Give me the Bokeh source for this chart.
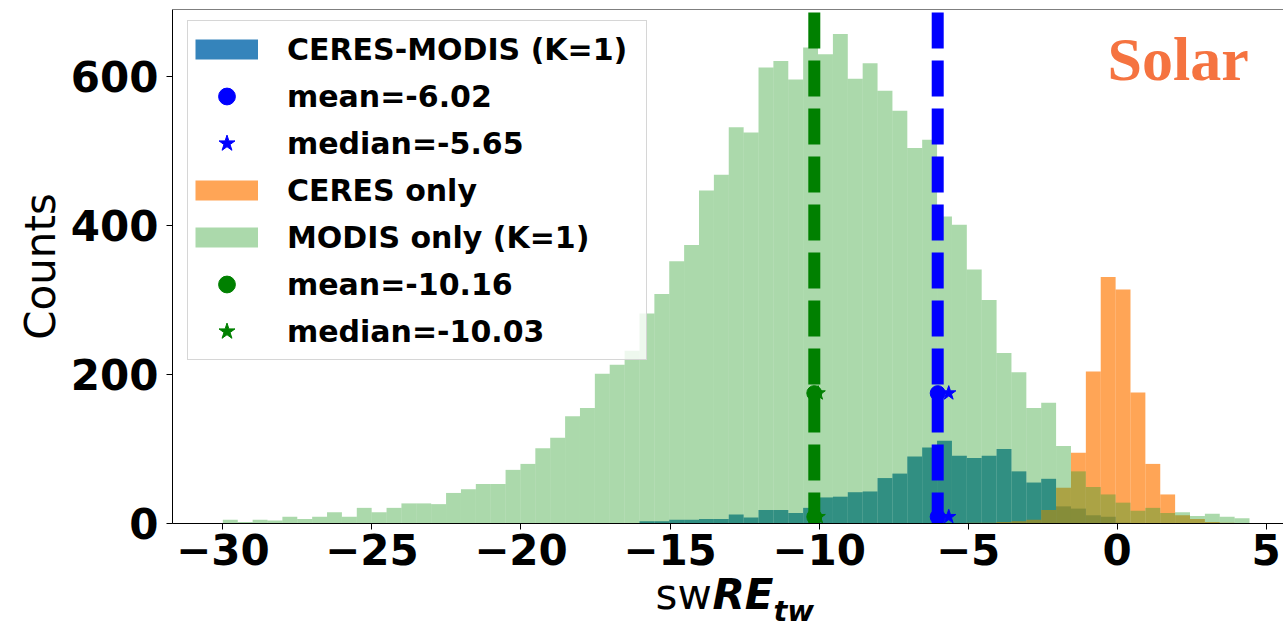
import numpy as np
from bokeh.plotting import figure
from bokeh.layouts import column
from bokeh.models import (Range1d, FixedTicker, Legend, LegendItem, Label, Span,
                          ColumnDataSource)
from bokeh.embed import file_html
from bokeh.resources import INLINE

# ---------------- data ----------------
bin_min = -30.0
bin_max = 4.44
n_bins = 69

modis_only = [5, 2, 5, 4, 9, 6, 9, 15, 9, 21,
              15, 21, 27, 27, 26, 41, 46, 53, 53, 72,
              80, 101, 115, 144, 155, 201, 213, 232, 282, 308,
              352, 374, 447, 468, 532, 525, 612, 621, 596, 639,
              630, 657, 597, 618, 581, 554, 504, 515, 412, 401,
              341, 300, 229, 203, 155, 162, 104, 70, 49, 39,
              28, 17, 21, 14, 15, 10, 13, 9, 7]

ceres_modis = [0, 0, 0, 0, 0, 0, 0, 0, 0, 0,
               0, 0, 0, 0, 0, 0, 0, 0, 0, 0,
               0, 0, 0, 0, 0, 0, 0, 0, 3, 3,
               5, 5, 6, 6, 12, 8, 18, 18, 14, 21,
               35, 36, 42, 43, 61, 67, 90, 102, 111, 91,
               88, 91, 100, 70, 55, 60, 23, 20, 11, 9,
               1, 0, 0, 0, 0, 0, 0, 0, 0]

ceres_only = [0, 0, 0, 0, 0, 0, 0, 0, 0, 0,
              0, 0, 0, 0, 0, 0, 0, 0, 0, 0,
              0, 0, 0, 0, 0, 0, 0, 0, 0, 0,
              0, 0, 0, 0, 0, 0, 0, 0, 0, 0,
              0, 0, 0, 0, 0, 0, 0, 0, 0, 0,
              1, 1, 2, 3, 5, 18, 48, 95, 204, 331,
              314, 176, 80, 39, 11, 6, 2, 1, 0]

ceres_modis_mean = -6.02
ceres_modis_median = -5.65
modis_mean = -10.16
modis_median = -10.03
marker_levels = [175, 9]

x_ticks = [-30, -25, -20, -15, -10, -5, 0, 5]
y_ticks = [0, 200, 400, 600]

legend_labels = ["CERES-MODIS (K=1)", "mean=-6.02", "median=-5.65", "CERES only",
                 "MODIS only (K=1)", "mean=-10.16", "median=-10.03"]

# ---------------- plot ----------------
edges = np.linspace(bin_min, bin_max, n_bins + 1)
left, right = edges[:-1], edges[1:]

X0, X1 = -31.69, 5.58
Y0, Y1 = 0, 690

W = 1283
H_MAIN = 585
OVERLAP = 14
H_XLAB = 631 - H_MAIN + OVERLAP

p = figure(width=W, height=H_MAIN, output_backend="svg", toolbar_location=None,
           x_range=Range1d(X0, X1), y_range=Range1d(Y0, Y1),
           min_border_left=172, min_border_right=0, min_border_top=9, min_border_bottom=62)
p.grid.visible = False
p.outline_line_color = None
p.background_fill_color = "white"
p.border_fill_color = "white"

blue_c, orange_c, green_c = "#1f77b4", "#ff7f0e", "#2ca02c"

src = ColumnDataSource(dict(left=left, right=right, cm=ceres_modis, co=ceres_only, mo=modis_only))
r_cm = p.quad(left="left", right="right", bottom=0, top="cm", source=src,
              fill_color=blue_c, fill_alpha=0.9, line_color=None)
r_co = p.quad(left="left", right="right", bottom=0, top="co", source=src,
              fill_color=orange_c, fill_alpha=0.7, line_color=None)
r_mo = p.quad(left="left", right="right", bottom=0, top="mo", source=src,
              fill_color=green_c, fill_alpha=0.4, line_color=None)

# mean lines
line_top = Y1
p.segment(x0=[modis_mean], x1=[modis_mean], y0=[line_top], y1=[Y0], line_color="#008000",
          line_width=12, line_dash="36 12", line_dash_offset=45)
p.segment(x0=[ceres_modis_mean], x1=[ceres_modis_mean], y0=[line_top], y1=[Y0], line_color="#0000ff",
          line_width=12, line_dash="36 12", line_dash_offset=45)

r_bmean = p.scatter(x=[ceres_modis_mean] * 2, y=marker_levels, marker="circle", size=15,
                    fill_color="#0000ff", line_color="#0000ff")
r_bmed = p.scatter(x=[ceres_modis_median] * 2, y=marker_levels, marker="star", size=15,
                   fill_color="#0000ff", line_color="#0000ff")
r_gmean = p.scatter(x=[modis_mean] * 2, y=marker_levels, marker="circle", size=15,
                    fill_color="#008000", line_color="#008000")
r_gmed = p.scatter(x=[modis_median] * 2, y=marker_levels, marker="star", size=15,
                   fill_color="#008000", line_color="#008000")

# legend swatches (thick lines give a matplotlib-like flat patch)
def swatch(color, alpha):
    return p.line(x="x", y="y", source=ColumnDataSource(dict(x=[np.nan], y=[np.nan])),
                  line_color=color, line_alpha=alpha, line_width=20)

sw_blue = swatch(blue_c, 0.9)
sw_orange = swatch(orange_c, 0.7)
sw_green = swatch(green_c, 0.4)

items = [LegendItem(label=legend_labels[0], renderers=[sw_blue]),
         LegendItem(label=legend_labels[1], renderers=[r_bmean]),
         LegendItem(label=legend_labels[2], renderers=[r_bmed]),
         LegendItem(label=legend_labels[3], renderers=[sw_orange]),
         LegendItem(label=legend_labels[4], renderers=[sw_green]),
         LegendItem(label=legend_labels[5], renderers=[r_gmean]),
         LegendItem(label=legend_labels[6], renderers=[r_gmed])]
legend = Legend(items=items, location=(15, 163), orientation="vertical",
                label_text_font="DejaVu Sans", label_text_font_style="bold",
                label_text_font_size="30px", label_text_color="black",
                glyph_width=63, glyph_height=42, label_width=352,
                label_height=42, spacing=5, padding=7, label_standoff=29, margin=0,
                border_line_color="#cccccc", border_line_alpha=0.8,
                background_fill_alpha=0.8)
p.add_layout(legend)

# top spine
p.add_layout(Span(location=Y1, dimension="width", line_color="black", line_width=1))

# axes
for ax in (p.xaxis[0], p.yaxis[0]):
    ax.major_label_text_font = "DejaVu Sans"
    ax.major_label_text_font_style = "bold"
    ax.major_label_text_font_size = "42px"
    ax.major_label_text_color = "black"
    ax.major_tick_out = 6
    ax.major_tick_in = 0
    ax.minor_tick_line_color = None
    ax.axis_line_color = "black"
    ax.major_tick_line_color = "black"

p.xaxis.ticker = FixedTicker(ticks=x_ticks)
p.yaxis.ticker = FixedTicker(ticks=y_ticks)
p.xaxis.major_label_overrides = {t: (str(t).replace("-", "\u2212")) for t in x_ticks}
p.xaxis.major_label_standoff = 4
p.yaxis.major_label_standoff = 8

p.yaxis.axis_label = "Counts"
p.yaxis.axis_label_text_font = "DejaVu Sans"
p.yaxis.axis_label_text_font_style = "normal"
p.yaxis.axis_label_text_font_size = "42px"
p.yaxis.axis_label_text_color = "black"
p.yaxis.axis_label_standoff = 3

# "Solar" tag
p.add_layout(Label(x=935, y=431, x_units="screen", y_units="screen", text="Solar",
                   text_font="Liberation Serif", text_font_style="bold",
                   text_font_size="62px", text_color="#f57340"))

# ---------------- x-axis label strip: sw RE_tw ----------------
q = figure(width=W, height=H_XLAB, output_backend="svg", toolbar_location=None,
           x_axis_type=None, y_axis_type=None, min_border=0,
           x_range=Range1d(0, 1), y_range=Range1d(0, 1))
q.grid.visible = False
q.outline_line_color = None
q.background_fill_alpha = 0
q.border_fill_alpha = 0
q.margin = (-OVERLAP, 0, 0, 0)

q.add_layout(Label(x=483, y=13, x_units="screen", y_units="screen", text="sw",
                   text_font="DejaVu Sans", text_font_size="42px", text_color="black"))
q.add_layout(Label(x=540, y=13, x_units="screen", y_units="screen", text="RE",
                   text_font="DejaVu Sans", text_font_style="bold italic",
                   text_font_size="42px", text_color="black"))
q.add_layout(Label(x=601, y=4, x_units="screen", y_units="screen", text="tw",
                   text_font="DejaVu Sans", text_font_style="bold italic",
                   text_font_size="29px", text_color="black"))

layout = column(p, q, spacing=0)
open("out.html", "w").write(file_html(layout, INLINE))
